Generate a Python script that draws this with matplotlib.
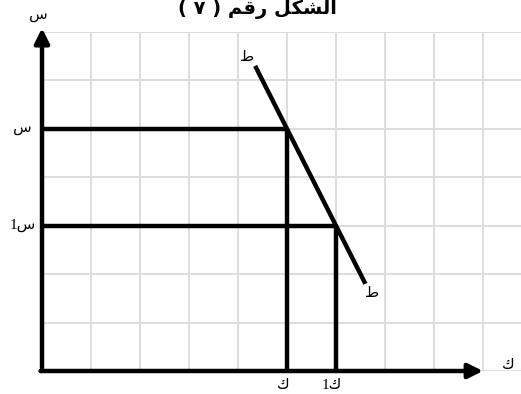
import matplotlib.pyplot as plt

# نقاط التوازن
quantities = [5, 6]          # ك , ك1
prices = [5, 3]              # س , س1
q_labels = ["ك", "1ك"]
p_labels = ["س", "1س"]

# منحنى الطلب ط ط
demand_x = [4.35, 6.6]
demand_y = [6.3, 1.8]

# العنوان: الشكل رقم (٧) بأشكال العرض العربية وبالترتيب المرئي
title = "( \u0667 ) \uFEE2\uFED7\uFEAD \uFEDE\uFEDC\uFEB8\uFEDF\uFE8D"

fig = plt.figure(figsize=(5.21, 3.94), dpi=100)
ax = fig.add_axes([42 / 521, 23 / 394, 479 / 521, 339 / 394])
ax.set_xlim(0, 479 / 49)
ax.set_ylim(0, 7)
ax.set_xticks(range(0, 10))
ax.set_yticks(range(0, 8))
ax.grid(True, color="#dddddd", lw=1.4)
ax.tick_params(length=0, labelbottom=False, labelleft=False)
for s in ax.spines.values():
    s.set_visible(False)

lw = 3.2
# المحاور
ax.annotate("", xy=(0, 7.08), xytext=(0, 0), annotation_clip=False,
            arrowprops=dict(arrowstyle="-|>", lw=lw, color="black",
                            mutation_scale=22, shrinkA=0, shrinkB=0))
ax.annotate("", xy=(9.0, 0), xytext=(-0.03, 0), annotation_clip=False,
            arrowprops=dict(arrowstyle="-|>", lw=lw, color="black",
                            mutation_scale=22, shrinkA=0, shrinkB=0))

# خطوط السعر والكمية
for q, p in zip(quantities, prices):
    ax.plot([0, q], [p, p], color="black", lw=lw, solid_capstyle="butt", clip_on=False)
    ax.plot([q, q], [p, 0], color="black", lw=lw, solid_capstyle="butt", clip_on=False)

ax.plot(demand_x, demand_y, color="black", lw=lw, solid_capstyle="butt", clip_on=False)

fam = ["Liberation Serif", "DejaVu Sans"]
fs = 11
for q, lab in zip(quantities, q_labels):
    ax.text(q - 0.08, -0.3, lab, ha="center", va="center", fontsize=fs, family=fam, clip_on=False)
for p, lab in zip(prices, p_labels):
    ax.text(-0.4, p, lab, ha="center", va="center", fontsize=fs, family=fam, clip_on=False)

ax.text(-0.08, 7.34, "س", ha="center", va="center", fontsize=fs, family=fam, clip_on=False)
ax.text(9.51, 0.12, "ك", ha="center", va="center", fontsize=fs, family=fam, clip_on=False)
ax.text(4.18, 6.47, "ط", ha="center", va="center", fontsize=fs, family=fam, clip_on=False)
ax.text(6.73, 1.6, "ط", ha="center", va="center", fontsize=fs, family=fam, clip_on=False)

fig.text(257 / 521, 1 - 14 / 394, title, ha="center", va="baseline",
         fontsize=14, fontweight="bold", family="DejaVu Sans")

fig.savefig("out.png", dpi=100)
